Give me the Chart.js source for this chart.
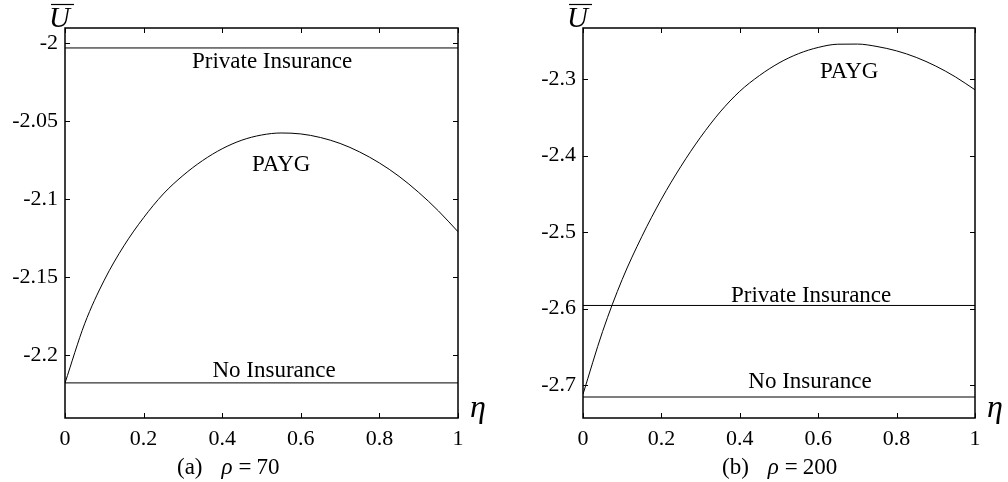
<!DOCTYPE html>
<html>
<head>
<meta charset="utf-8">
<script src="https://cdn.jsdelivr.net/npm/chart.js@4/dist/chart.umd.min.js"></script>
<style>
  html, body { margin: 0; padding: 0; background: #fff; }
  .panel { position: absolute; top: 0; width: 504px; height: 482px; }
</style>
</head>
<body>
<div class="panel" style="left:0"><canvas id="chartA" width="504" height="482"></canvas></div>
<div class="panel" style="left:504px"><canvas id="chartB" width="504" height="482"></canvas></div>
<script>
// Valores
const etaGrid = [0, 0.05, 0.1, 0.15, 0.2, 0.25, 0.3, 0.35, 0.4, 0.45, 0.5, 0.55, 0.6, 0.65, 0.7, 0.75, 0.8, 0.85, 0.9, 0.95, 1];
const paygRho70 = [-2.218, -2.180, -2.152, -2.130, -2.112, -2.0968, -2.085, -2.0754, -2.0678, -2.0623, -2.059, -2.0577, -2.0583, -2.0606, -2.0644, -2.0699, -2.0769, -2.0855, -2.0958, -2.1076, -2.121];
const paygRho200 = [-2.712, -2.630, -2.562, -2.506, -2.457, -2.414, -2.376, -2.343, -2.316, -2.2955, -2.279, -2.2668, -2.2587, -2.2545, -2.2543, -2.2575, -2.2632, -2.2717, -2.2831, -2.2972, -2.3141];
const privadoRho70 = -2.0032;
const sinSeguroRho70 = -2.2179;
const privadoRho200 = -2.596;
const sinSeguroRho200 = -2.7157;

// Ticks de los ejes
const xTicks = [0, 0.2, 0.4, 0.6, 0.8, 1];
const yTicksRho70 = [-2, -2.05, -2.1, -2.15, -2.2];
const yTicksRho200 = [-2.3, -2.4, -2.5, -2.6, -2.7];
const yRangoRho70 = [-2.2404, -1.9904];
const yRangoRho200 = [-2.7431, -2.2333];

const FUENTE = '"Liberation Serif", "Times New Roman", serif';

function puntos(ys) {
    return etaGrid.map((x, i) => ({ x: x, y: ys[i] }));
}
function horizontal(v) {
    return [{ x: 0, y: v }, { x: 1, y: v }];
}

// Plugin: marco, ticks interiores, textos y etiquetas de ejes
const marcoPlugin = {
    id: 'marco',
    afterDraw(chart, args, opts) {
        const ctx = chart.ctx;
        const a = chart.chartArea;
        const xs = chart.scales.x, ys = chart.scales.y;
        ctx.save();
        ctx.strokeStyle = '#000';
        ctx.lineWidth = 1;
        ctx.beginPath();
        xTicks.forEach(v => {
            const px = Math.round(xs.getPixelForValue(v)) + 0.5;
            ctx.moveTo(px, a.bottom); ctx.lineTo(px, a.bottom - 5);
            ctx.moveTo(px, a.top); ctx.lineTo(px, a.top + 5);
        });
        opts.yTicks.forEach(v => {
            const py = Math.round(ys.getPixelForValue(v)) + 0.5;
            ctx.moveTo(a.left, py); ctx.lineTo(a.left + 5, py);
            ctx.moveTo(a.right, py); ctx.lineTo(a.right - 5, py);
        });
        ctx.stroke();
        ctx.lineWidth = 1.5;
        ctx.strokeRect(a.left, a.top, a.right - a.left, a.bottom - a.top);

        // textos dentro del gráfico
        ctx.fillStyle = '#000';
        ctx.font = '23px ' + FUENTE;
        ctx.textAlign = 'center';
        ctx.textBaseline = 'alphabetic';
        opts.textos.forEach(t => {
            ctx.fillText(t.texto, xs.getPixelForValue(t.x), ys.getPixelForValue(t.y));
        });

        // U con barra
        ctx.textAlign = 'left';
        ctx.font = 'italic 29px ' + FUENTE;
        const ux = a.left - 16;
        ctx.fillText('U', ux, 27);
        ctx.lineWidth = 1.2;
        ctx.beginPath();
        ctx.moveTo(ux + 2, 4.5); ctx.lineTo(ux + 25, 4.5);
        ctx.stroke();

        // eta
        ctx.font = 'italic 32px ' + FUENTE;
        ctx.fillText('\u03b7', a.right + 12, 417);

        // pie de figura
        let cx = opts.pie.x;
        const py = 474;
        opts.pie.partes.forEach(p => {
            ctx.font = (p.italica ? 'italic ' : '') + '23px ' + FUENTE;
            cx += p.gap || 0;
            ctx.fillText(p.t, cx, py);
            cx += ctx.measureText(p.t).width;
        });
        ctx.restore();
    }
};

function crearGrafico(id, cfg) {
    const ctx = document.getElementById(id).getContext('2d');
    return new Chart(ctx, {
        type: 'line',
        data: {
            datasets: [
                { data: puntos(cfg.payg), borderColor: '#000', borderWidth: 1, pointRadius: 0, cubicInterpolationMode: 'monotone' },
                { data: horizontal(cfg.privado), borderColor: '#000', borderWidth: 1, pointRadius: 0 },
                { data: horizontal(cfg.sinSeguro), borderColor: cfg.colorSinSeguro, borderWidth: cfg.anchoSinSeguro, pointRadius: 0 }
            ]
        },
        options: {
            responsive: false,
            animation: false,
            devicePixelRatio: 1,
            layout: { padding: { top: 28, right: cfg.derecha, left: 0, bottom: 0 } },
            plugins: {
                legend: { display: false },
                tooltip: { enabled: false },
                marco: { yTicks: cfg.yTicks, textos: cfg.textos, pie: cfg.pie }
            },
            scales: {
                x: {
                    type: 'linear', min: 0, max: 1,
                    grid: { display: false, drawTicks: false },
                    border: { display: false },
                    afterBuildTicks: s => { s.ticks = xTicks.map(v => ({ value: v })); },
                    afterFit: s => { s.height = 64; },
                    ticks: {
                        autoSkip: false, maxRotation: 0, padding: 8, color: '#000',
                        font: { family: FUENTE, size: 22 },
                        callback: v => String(v)
                    }
                },
                y: {
                    type: 'linear', min: cfg.rango[0], max: cfg.rango[1],
                    grid: { display: false, drawTicks: false },
                    border: { display: false },
                    afterBuildTicks: s => { s.ticks = cfg.yTicks.map(v => ({ value: v })); },
                    afterFit: s => { s.width = cfg.izquierda; },
                    ticks: {
                        autoSkip: false, padding: 7, color: '#000',
                        font: { family: FUENTE, size: 22 },
                        callback: v => String(v)
                    }
                }
            }
        },
        plugins: [marcoPlugin]
    });
}

crearGrafico('chartA', {
    payg: paygRho70, privado: privadoRho70, sinSeguro: sinSeguroRho70,
    colorSinSeguro: '#000', anchoSinSeguro: 1,
    yTicks: yTicksRho70, rango: yRangoRho70, izquierda: 65, derecha: 46,
    textos: [
        { texto: 'Private Insurance', x: 0.527, y: -2.016 },
        { texto: 'PAYG', x: 0.55, y: -2.0821 },
        { texto: 'No Insurance', x: 0.532, y: -2.2141 }
    ],
    pie: { x: 177, partes: [{ t: '(a)' }, { t: '\u03c1', italica: true, gap: 19 }, { t: '=', gap: 6 }, { t: '70', gap: 5 }] }
});

crearGrafico('chartB', {
    payg: paygRho200, privado: privadoRho200, sinSeguro: sinSeguroRho200,
    colorSinSeguro: '#555', anchoSinSeguro: 1.5,
    yTicks: yTicksRho200, rango: yRangoRho200, izquierda: 79, derecha: 33,
    textos: [
        { texto: 'PAYG', x: 0.679, y: -2.2987 },
        { texto: 'Private Insurance', x: 0.582, y: -2.5915 },
        { texto: 'No Insurance', x: 0.579, y: -2.7039 }
    ],
    pie: { x: 218, partes: [{ t: '(b)' }, { t: '\u03c1', italica: true, gap: 19 }, { t: '=', gap: 6 }, { t: '200', gap: 5 }] }
});
</script>
</body>
</html>
